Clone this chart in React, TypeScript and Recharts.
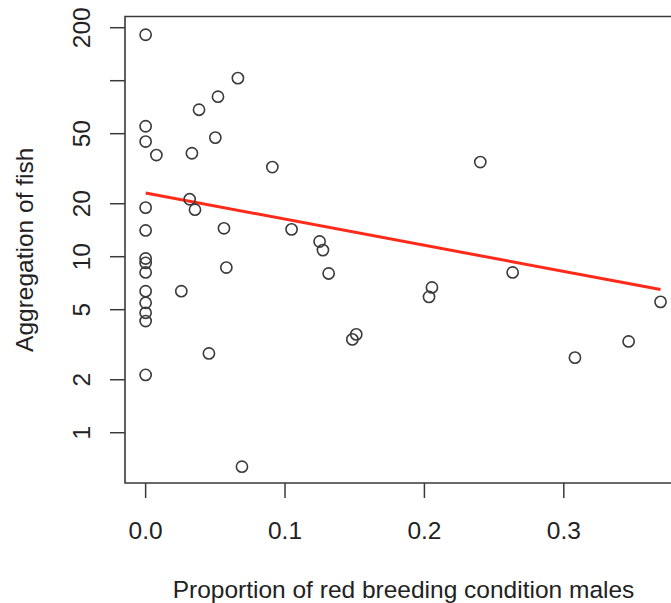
import React from 'react';
import { ScatterChart, Scatter, XAxis, YAxis, ReferenceLine, ReferenceArea, Label } from 'recharts';

const propRedMales = [
  0.0, 0.0662, 0.0519, 0.0383, 0.0, 0.0, 0.0077, 0.0332, 0.05, 0.0909,
  0.0, 0.0316, 0.0354, 0.0, 0.0562, 0.1047, 0.1248, 0.1272, 0.1313, 0.2401,
  0.0, 0.0, 0.0, 0.0, 0.0, 0.0, 0.0, 0.0, 0.0256, 0.0579,
  0.0454, 0.0691, 0.1511, 0.1483, 0.2054, 0.2033, 0.2633, 0.308, 0.3465, 0.3694,
];
const aggregation = [
  182.4, 103.4, 81.1, 68.4, 55.1, 45.1, 37.8, 38.7, 47.5, 32.3,
  19.0, 21.2, 18.5, 14.1, 14.5, 14.3, 12.2, 10.9, 8.03, 34.5,
  9.77, 9.22, 8.14, 6.37, 5.47, 4.8, 4.31, 2.13, 6.37, 8.68,
  2.82, 0.641, 3.62, 3.39, 6.69, 5.91, 8.14, 2.67, 3.3, 5.54,
];
const trendX = [0, 0.3694];
const trendY = [23.0, 6.51];
const xTicks = [0, 0.1, 0.2, 0.3];
const yTicks = [1, 2, 5, 10, 20, 50, 100, 200];
const yTickLabels = ['1', '2', '5', '10', '20', '50', '', '200'];

const xDomain: [number, number] = [-0.0148, 0.3848];
const yDomain: [number, number] = [0.518, 231.6];

const points = propRedMales.map((x, i) => ({ x, y: aggregation[i] }));

const FONT = '"Liberation Sans", Arial, Helvetica, sans-serif';
const FS = 24.5;
const TXT = '#222';
const INK = '#3a3a3a';

const XTick = (props: any) => {
  const { x, y, payload } = props;
  return (
    <text x={x} y={y + 41} textAnchor="middle" fontFamily={FONT} fontSize={FS} fill={TXT}>
      {Number(payload.value).toFixed(1)}
    </text>
  );
};

const YTick = (props: any) => {
  const { x, y, payload } = props;
  const idx = yTicks.indexOf(payload.value);
  const label = idx >= 0 ? yTickLabels[idx] : String(payload.value);
  const bx = x - 20;
  return (
    <text
      x={bx}
      y={y}
      transform={`rotate(-90, ${bx}, ${y})`}
      textAnchor="middle"
      fontFamily={FONT}
      fontSize={FS}
      fill={TXT}
    >
      {label}
    </text>
  );
};

const OpenCircle = (props: any) => {
  const { cx, cy } = props;
  return <circle cx={cx} cy={cy} r={5.6} fill="none" stroke={INK} strokeWidth={1.6} />;
};

export default function App() {
  return (
    <div style={{ position: 'fixed', left: 0, top: 0, width: 671, height: 603, overflow: 'hidden', background: '#fff' }}>
      <ScatterChart width={720} height={603} margin={{ top: 16.5, right: 38, bottom: 0, left: 0 }}>
        <XAxis
          type="number"
          dataKey="x"
          domain={xDomain}
          allowDataOverflow
          ticks={xTicks}
          tickSize={15}
          tickMargin={0}
          height={120}
          axisLine={false}
          tickLine={{ stroke: INK, strokeWidth: 1.5 }}
          tick={<XTick />}
          interval={0}
        >
          <Label
            content={(p: any) => {
              const vb = p.viewBox || {};
              return (
                <text
                  x={vb.x + vb.width / 2}
                  y={vb.y + 115}
                  textAnchor="middle"
                  fontFamily={FONT}
                  fontSize={FS}
                  fill={TXT}
                >
                  Proportion of red breeding condition males
                </text>
              );
            }}
          />
        </XAxis>
        <YAxis
          type="number"
          dataKey="y"
          scale="log"
          domain={yDomain}
          allowDataOverflow
          ticks={yTicks}
          tickSize={15}
          tickMargin={0}
          width={125}
          axisLine={false}
          tickLine={{ stroke: INK, strokeWidth: 1.5 }}
          tick={<YTick />}
          interval={0}
        >
          <Label
            content={(p: any) => {
              const vb = p.viewBox || {};
              const cx = 33;
              const cy = vb.y + vb.height / 2;
              return (
                <text
                  x={cx}
                  y={cy}
                  transform={`rotate(-90, ${cx}, ${cy})`}
                  textAnchor="middle"
                  fontFamily={FONT}
                  fontSize={FS}
                  fill={TXT}
                >
                  Aggregation of fish
                </text>
              );
            }}
          />
        </YAxis>
        <ReferenceArea
          x1={xDomain[0]}
          x2={xDomain[1]}
          y1={yDomain[0]}
          y2={yDomain[1]}
          fill="none"
          fillOpacity={0}
          stroke={INK}
          strokeWidth={1.6}
          ifOverflow="visible"
        />
        <ReferenceLine
          segment={[
            { x: trendX[0], y: trendY[0] },
            { x: trendX[1], y: trendY[1] },
          ]}
          stroke="#ff2a1a"
          strokeWidth={3}
          ifOverflow="visible"
        />
        <Scatter data={points} shape={<OpenCircle />} isAnimationActive={false} />
      </ScatterChart>
    </div>
  );
}
